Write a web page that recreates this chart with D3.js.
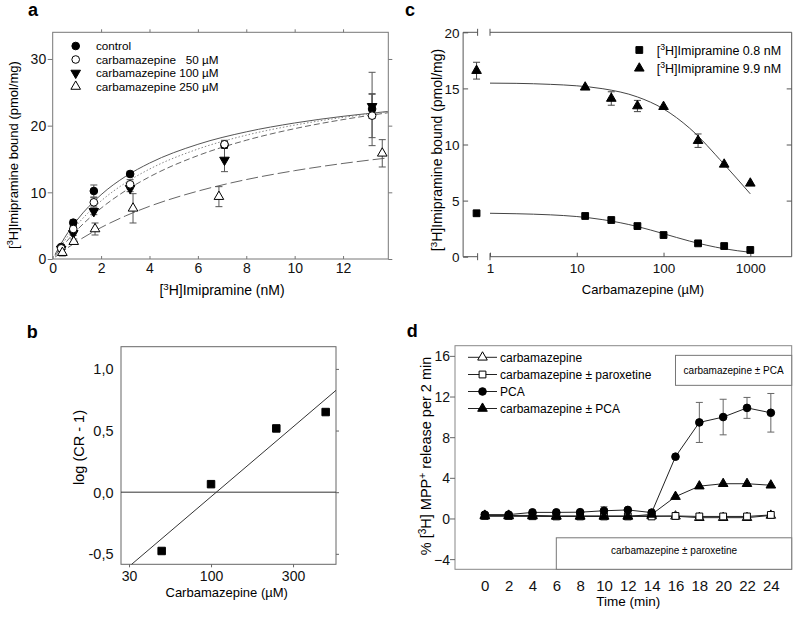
<!DOCTYPE html>
<html><head><meta charset="utf-8">
<script src="https://cdn.jsdelivr.net/npm/d3@7"></script>
<style>body{margin:0;background:#fff} svg text{font-family:"Liberation Sans",Arial,sans-serif}</style>
</head><body><svg id="fig" width="800" height="617"></svg>
<script>
// ---------------- Panel a data ----------------
const aConc = [0.35, 0.85, 1.7, 3.2, 7.1, 13.2];
const aConc250 = [0.4, 0.87, 1.75, 3.32, 6.87, 13.62];
const aControl = [1.8, 5.45, 10.2, 12.75, 17.1, 22.5];
const aControlErr = [0.3, 0.4, 0.9, 0.4, 0.5, 5.5];
const aCbz50 = [1.6, 4.5, 8.5, 11.2, 17.2, 21.5];
const aCbz50Err = [0.3, 0.4, 0.7, 0.7, 0.6, 3.3];
const aCbz100 = [1.5, 3.85, 7.15, 10.6, 14.85, 22.9];
const aCbz100Err = [0.3, 0.3, 0.5, 0.5, 1.75, 1.8];
const aCbz250 = [0.95, 2.6, 4.5, 7.6, 9.35, 15.85];
const aCbz250Err = [0.5, 0.4, 0.9, 2.2, 1.5, 2.05];
const aFitX = [0.1, 0.5, 1, 2, 3, 4, 6, 8, 10, 12, 13.85];
const aFitControl = [0.71, 3.24, 5.81, 9.64, 12.36, 14.38, 17.20, 19.07, 20.40, 21.40, 22.12];
const aFit50 = [0.60, 2.79, 5.10, 8.71, 11.40, 13.48, 16.49, 18.57, 20.08, 21.24, 22.08];
const aFit100 = [0.49, 2.32, 4.33, 7.62, 10.22, 12.32, 15.51, 17.81, 19.55, 20.91, 21.93];
const aFit250 = [0.29, 1.38, 2.61, 4.72, 6.45, 7.90, 10.18, 11.91, 13.25, 14.33, 15.16];
const aXTicks = [0, 2, 4, 6, 8, 10, 12];
const aYTicks = [0, 10, 20, 30];
const aLegend = ["control", "carbamazepine   50 \u00b5M", "carbamazepine 100 \u00b5M", "carbamazepine 250 \u00b5M"];

// ---------------- Panel b data ----------------
const bConc = [50, 100, 250, 500];
const bLogCR = [-0.477, 0.065, 0.517, 0.65];
const bFitConc = [32.8, 578];
const bFitVal = [-0.585, 0.826];
const bXTickVals = [31.62, 100, 316.2];
const bXTickLabels = ["30", "100", "300"];
const bYTicks = [-0.5, 0, 0.5, 1.0];

// ---------------- Panel c data ----------------
const cConc = [0, 12.5, 25, 50, 100, 250, 500, 1000];
const cLow = [3.87, 3.63, 3.27, 2.73, 1.93, 1.19, 0.95, 0.6];
const cHigh = [16.58, 15.1, 14.1, 13.43, 13.37, 10.34, 8.23, 6.54];
const cHighErr = [0.75, 0, 0.6, 0.5, 0, 0.6, 0, 0];
const cFitX = [1, 2, 5, 10, 20, 50, 100, 200, 500, 1000];
const cFitLow = [3.87, 3.83, 3.73, 3.58, 3.30, 2.69, 2.05, 1.39, 0.71, 0.39];
const cFitHigh = [15.47, 15.45, 15.36, 15.23, 14.97, 14.24, 13.17, 11.45, 8.23, 5.60];
const cXTicks = [1, 10, 100, 1000];
const cYTicks = [0, 5, 10, 15, 20];
const cZeroAt = 0.7;            // where the 0 µM control sits on the broken axis
const cBreakSeg = [0.49, 0.72]; // short axis segment left of the break
const cLegend = ["Imipramine 0.8 nM", "Imipramine 9.9 nM"];

// ---------------- Panel d data ----------------
const dTime = [0, 2, 4, 6, 8, 10, 12, 14, 16, 18, 20, 22, 24];
const dCbz = [0.3, 0.3, 0.3, 0.25, 0.25, 0.25, 0.25, 0.25, 0.22, 0.08, 0.08, 0.08, 0.3];
const dCbzParox = [0.25, 0.25, 0.22, 0.2, 0.2, 0.2, 0.2, 0.2, 0.25, 0.2, 0.2, 0.2, 0.35];
const dPCA = [0.38, 0.38, 0.6, 0.6, 0.62, 0.76, 0.84, 0.58, 6.08, 9.45, 9.98, 10.88, 10.4];
const dPCAErr = [0.1, 0.1, 0.1, 0.1, 0.12, 0.4, 0.15, 0.12, 0, 1.97, 1.75, 1.03, 1.9];
const dCbzPCA = [0.23, 0.23, 0.23, 0.2, 0.2, 0.2, 0.2, 0.4, 2.15, 3.18, 3.42, 3.42, 3.27];
const dXTicks = [0, 2, 4, 6, 8, 10, 12, 14, 16, 18, 20, 22, 24];
const dYTicks = [-4, 0, 4, 8, 12, 16];
const dBoxes = [
  {label: "carbamazepine \u00b1 PCA", t0: 16, top: 16.05, bottom: 13.1},
  {label: "carbamazepine \u00b1 paroxetine", t0: 6, top: -1.9, bottom: -5}
];
const dLegend = ["carbamazepine", "carbamazepine \u00b1 paroxetine", "PCA", "carbamazepine \u00b1 PCA"];

// ---------------- helpers ----------------
const svg = d3.select("#fig");
const FONT = '"Liberation Sans",Arial,sans-serif';

function sym(type, size) { return d3.symbol().type(type).size(size)(); }
const CIRCLE = sym(d3.symbolCircle, 46);
const TRI = sym(d3.symbolTriangle, 40);
const SQUARE = sym(d3.symbolSquare, 46);
const SQUAREB = sym(d3.symbolSquare, 56);

function marker(g, path, x, y, fill, rot) {
  g.append("path").attr("d", path)
    .attr("transform", `translate(${x},${y})` + (rot ? ` rotate(${rot})` : ""))
    .attr("fill", fill).attr("stroke", "#000").attr("stroke-width", 1);
}

function errBar(g, x, y0, y1, color, cap) {
  g.append("line").attr("x1", x).attr("x2", x).attr("y1", y0).attr("y2", y1).attr("stroke", color);
  g.append("line").attr("x1", x - cap).attr("x2", x + cap).attr("y1", y0).attr("y2", y0).attr("stroke", color);
  g.append("line").attr("x1", x - cap).attr("x2", x + cap).attr("y1", y1).attr("y2", y1).attr("stroke", color);
}

// rich text with superscripts: parts = [[text, isSup], ...]
function rich(sel, parts) {
  let prevSup = false;
  parts.forEach(([t, sup]) => {
    const ts = sel.append("tspan").text(t);
    if (sup) { ts.attr("font-size", "0.7em").attr("dy", "-0.5em"); }
    else if (prevSup) { ts.attr("dy", "0.35em"); }
    prevSup = sup;
  });
  return sel;
}

function axis(parent, fn, scale, o) {
  const a = fn(scale).tickValues(o.vals).tickSizeInner(o.size).tickSizeOuter(0)
    .tickFormat(o.fmt ? o.fmt : () => "");
  const g = parent.append("g").attr("transform", o.transform || null).call(a);
  g.attr("font-family", FONT).attr("font-size", o.fs || 14);
  g.select(".domain").remove();
  g.selectAll(".tick line").attr("stroke", o.color || "#555");
  const t = g.selectAll(".tick text").attr("fill", "#111");
  if (o.ty !== undefined) t.attr("y", o.ty).attr("dy", null);
  if (o.tx !== undefined) t.attr("x", o.tx).attr("dy", "0.35em");
  return g;
}

function letter(x, y, s) {
  svg.append("text").attr("x", x).attr("y", y).attr("font-size", 18).attr("font-weight", "bold").text(s);
}

// ================= Panel a =================
{
  const g = svg.append("g");
  const x = d3.scaleLinear().domain([0, 13.87]).range([52.7, 388.3]);
  const y = d3.scaleLinear().domain([0, 34]).range([259, 32.3]);
  const fc = "#777";
  g.append("rect").attr("x", x(0)).attr("y", y(34)).attr("width", x(13.87) - x(0)).attr("height", y(0) - y(34))
    .attr("fill", "none").attr("stroke", fc);
  axis(g, d3.axisLeft, y, {vals: aYTicks, size: 5, fmt: d3.format("d"), tx: -6.5, fs: 14, color: fc, transform: `translate(${x(0)},0)`});
  axis(g, d3.axisRight, y, {vals: aYTicks, size: 4, color: fc, transform: `translate(${x(13.87)},0)`});
  axis(g, d3.axisTop, x, {vals: aXTicks.slice(1), size: 3, color: fc, transform: `translate(0,${y(34)})`});
  axis(g, d3.axisBottom, x, {vals: aXTicks, size: -3, fmt: d3.format("d"), ty: 14, fs: 14, color: fc, transform: `translate(0,${y(0)})`});

  const line = d3.line().x(d => x(d[0])).y(d => y(d[1])).curve(d3.curveMonotoneX);
  const fits = [[aFitControl, null, "#555"], [aFit50, "1.5,2", "#888"], [aFit100, "6,3", "#666"], [aFit250, "12,4", "#666"]];
  fits.forEach(([vals, dash, col]) => {
    g.append("path").attr("d", line(aFitX.map((v, i) => [v, vals[i]])))
      .attr("fill", "none").attr("stroke", col).attr("stroke-width", 1).attr("stroke-dasharray", dash);
  });

  const series = [
    [aConc, aControl, aControlErr, CIRCLE, "#000", 0],
    [aConc, aCbz100, aCbz100Err, TRI, "#000", 180],
    [aConc, aCbz50, aCbz50Err, CIRCLE, "#fff", 0],
    [aConc250, aCbz250, aCbz250Err, TRI, "#fff", 0]
  ];
  series.forEach(([xs, ys, es]) => xs.forEach((xv, i) => {
    if (es[i] > 0) errBar(g, x(xv), y(ys[i] + es[i]), y(ys[i] - es[i]), "#555", 3.5);
  }));
  series.forEach(([xs, ys, es, shp, fill, rot]) => xs.forEach((xv, i) => marker(g, shp, x(xv), y(ys[i]), fill, rot)));

  // legend
  const lshapes = [[CIRCLE, "#000", 0], [CIRCLE, "#fff", 0], [TRI, "#000", 180], [TRI, "#fff", 0]];
  const ly = [46, 59.5, 73, 86.5];
  aLegend.forEach((t, i) => {
    marker(g, lshapes[i][0], 75.7, ly[i], lshapes[i][1], lshapes[i][2]);
    g.append("text").attr("x", 96).attr("y", ly[i] + 4.3).attr("font-size", 11.7)
      .style("white-space", "pre").text(t);
  });

  rich(g.append("text").attr("x", 222).attr("y", 295).attr("text-anchor", "middle").attr("font-size", 14),
    [["[", false], ["3", true], ["H]Imipramine (nM)", false]]);
  rich(g.append("text").attr("transform", "translate(17.5,155) rotate(-90)").attr("text-anchor", "middle").attr("font-size", 13),
    [["[", false], ["3", true], ["H]Imipramine bound (pmol/mg)", false]]);
  letter(28, 16, "a");
}

// ================= Panel b =================
{
  const g = svg.append("g");
  const x = d3.scaleLog().domain([28.25, 578]).range([121, 336]);
  const y = d3.scaleLinear().domain([-0.585, 1.18]).range([564.3, 346.7]);
  const fc = "#666";
  g.append("rect").attr("x", 121).attr("y", y(1.18)).attr("width", x(578) - x(28.25)).attr("height", y(-0.585) - y(1.18))
    .attr("fill", "none").attr("stroke", fc);
  const fmt = d => d.toFixed(1).replace(".", ",");
  axis(g, d3.axisLeft, y, {vals: bYTicks, size: 0, fmt: fmt, tx: -7.5, fs: 14.5, color: fc, transform: `translate(${x(28.25)},0)`});
  axis(g, d3.axisRight, y, {vals: bYTicks, size: 3, color: fc, transform: `translate(${x(578)},0)`});
  axis(g, d3.axisBottom, x, {vals: bXTickVals, size: 3, fmt: (d, i) => bXTickLabels[i], ty: 16.3, fs: 14, color: fc, transform: `translate(0,${y(-0.585)})`});

  g.append("line").attr("x1", x(28.25)).attr("x2", x(578)).attr("y1", y(0)).attr("y2", y(0)).attr("stroke", "#333");
  g.append("line").attr("x1", x(bFitConc[0])).attr("x2", x(bFitConc[1])).attr("y1", y(bFitVal[0])).attr("y2", y(bFitVal[1]))
    .attr("stroke", "#333");
  bConc.forEach((c, i) => marker(g, SQUAREB, x(c), y(bLogCR[i]), "#000", 0));

  g.append("text").attr("x", 226.7).attr("y", 597).attr("text-anchor", "middle").attr("font-size", 13).text("Carbamazepine (\u00b5M)");
  g.append("text").attr("transform", "translate(84,447.5) rotate(-90)").attr("text-anchor", "middle").attr("font-size", 14.5).text("log (CR - 1)");
  letter(26.7, 338.3, "b");
}

// ================= Panel c =================
{
  const g = svg.append("g");
  const x = d3.scaleLog().domain([1, 3000]).range([490, 791.7]);
  const y = d3.scaleLinear().domain([0, 20]).range([256.7, 32.3]);
  const fc = "#555";
  const xl = x(cBreakSeg[0]), xb = x(cBreakSeg[1]), x1 = x(1), xr = x(3000);
  [y(0), y(20)].forEach(yy => {
    g.append("line").attr("x1", xl).attr("x2", xb).attr("y1", yy).attr("y2", yy).attr("stroke", fc);
    g.append("line").attr("x1", x1).attr("x2", xr).attr("y1", yy).attr("y2", yy).attr("stroke", fc);
    [xb, x1].forEach(xx => g.append("line").attr("x1", xx).attr("x2", xx).attr("y1", yy - 3.5).attr("y2", yy + 3.5).attr("stroke", fc));
  });
  g.append("line").attr("x1", xl).attr("x2", xl).attr("y1", y(0)).attr("y2", y(20)).attr("stroke", fc);
  g.append("line").attr("x1", xr).attr("x2", xr).attr("y1", y(0)).attr("y2", y(20)).attr("stroke", fc);
  axis(g, d3.axisLeft, y, {vals: cYTicks, size: -5, fmt: d3.format("d"), tx: -3.5, fs: 13.5, color: fc, transform: `translate(${xl},0)`});
  axis(g, d3.axisRight, y, {vals: cYTicks.slice(1, 4), size: -5, color: fc, transform: `translate(${xr},0)`});
  axis(g, d3.axisBottom, x, {vals: cXTicks, size: -4, fmt: d3.format("d"), ty: 16.5, fs: 13.5, color: fc, transform: `translate(0,${y(0)})`});

  const line = d3.line().x(d => x(d[0])).y(d => y(d[1])).curve(d3.curveMonotoneX);
  [cFitLow, cFitHigh].forEach(vals => g.append("path").attr("d", line(cFitX.map((v, i) => [v, vals[i]])))
    .attr("fill", "none").attr("stroke", "#444").attr("stroke-width", 1));

  const px = c => x(c === 0 ? cZeroAt : c);
  cConc.forEach((c, i) => { if (cHighErr[i] > 0) errBar(g, px(c), y(cHigh[i] + cHighErr[i]), y(cHigh[i] - cHighErr[i]), "#444", 3.5); });
  cConc.forEach((c, i) => marker(g, SQUARE, px(c), y(cLow[i]), "#000", 0));
  cConc.forEach((c, i) => marker(g, TRI, px(c), y(cHigh[i]), "#000", 0));

  const ly = [50, 68.3];
  [SQUARE, TRI].forEach((s, i) => {
    marker(g, s, 639.3, ly[i], "#000", 0);
    rich(g.append("text").attr("x", 656.7).attr("y", ly[i] + 4.5).attr("font-size", 12.5),
      [["[", false], ["3", true], ["H]" + cLegend[i], false]]);
  });

  g.append("text").attr("x", 643).attr("y", 294).attr("text-anchor", "middle").attr("font-size", 13).text("Carbamazepine (\u00b5M)");
  rich(g.append("text").attr("transform", "translate(441.5,150) rotate(-90)").attr("text-anchor", "middle").attr("font-size", 14),
    [["[", false], ["3", true], ["H]Imipramine bound (pmol/mg)", false]]);
  letter(405, 15.7, "c");
}

// ================= Panel d =================
{
  const g = svg.append("g");
  const x = d3.scaleLinear().domain([-2.5, 25.75]).range([455, 791.7]);
  const y = d3.scaleLinear().domain([-5, 17]).range([569.3, 345.7]);
  const fc = "#888";
  g.append("rect").attr("x", x(-2.5)).attr("y", y(17)).attr("width", x(25.75) - x(-2.5)).attr("height", y(-5) - y(17))
    .attr("fill", "none").attr("stroke", fc);
  axis(g, d3.axisLeft, y, {vals: dYTicks, size: 5, fmt: d3.format("d"), tx: -5, fs: 14, color: "#666", transform: `translate(${x(-2.5)},0)`});
  axis(g, d3.axisBottom, x, {vals: dXTicks, size: 0, fmt: d3.format("d"), ty: 21.4, fs: 15, color: fc, transform: `translate(0,${y(-5)})`});

  dBoxes.forEach(b => {
    g.append("rect").attr("x", x(b.t0)).attr("y", y(b.top)).attr("width", x(25.75) - x(b.t0)).attr("height", y(b.bottom) - y(b.top))
      .attr("fill", "#fff").attr("stroke", "#777");
    g.append("text").attr("x", (x(b.t0) + x(25.75)) / 2).attr("y", (y(b.top) + y(Math.max(b.bottom, -4.4))) / 2 + 3.6)
      .attr("text-anchor", "middle").attr("font-size", 10).text(b.label);
  });

  const line = d3.line().x((d, i) => x(dTime[i])).y(d => y(d));
  const series = [
    [dCbz, null, TRI, "#fff"],
    [dCbzParox, null, SQUARE, "#fff"],
    [dPCA, dPCAErr, CIRCLE, "#000"],
    [dCbzPCA, null, TRI, "#000"]
  ];
  series.forEach(([vals]) => g.append("path").attr("d", line(vals)).attr("fill", "none").attr("stroke", "#222").attr("stroke-width", 1));
  series.forEach(([vals, errs]) => {
    if (errs) vals.forEach((v, i) => { if (errs[i] > 0.3) errBar(g, x(dTime[i]), y(v + errs[i]), y(v - errs[i]), "#666", 3.5); });
  });
  series.forEach(([vals, errs, shp, fill]) => vals.forEach((v, i) => marker(g, shp, x(dTime[i]), y(v), fill, 0)));

  const ly = [357.3, 374.5, 391.5, 408.5];
  dLegend.forEach((t, i) => {
    const [, , shp, fill] = series[i];
    g.append("line").attr("x1", 468).attr("x2", 497).attr("y1", ly[i]).attr("y2", ly[i]).attr("stroke", "#222");
    marker(g, shp, 482.5, ly[i], fill, 0);
    g.append("text").attr("x", 500).attr("y", ly[i] + 4.5).attr("font-size", 12).text(t);
  });

  g.append("text").attr("x", 628.3).attr("y", 606).attr("text-anchor", "middle").attr("font-size", 13.5).text("Time (min)");
  rich(g.append("text").attr("transform", "translate(431,456) rotate(-90)").attr("text-anchor", "middle").attr("font-size", 14.5),
    [["% [", false], ["3", true], ["H] MPP", false], ["+", true], [" release per 2 min", false]]);
  letter(406.7, 336.7, "d");
}
</script></body></html>
